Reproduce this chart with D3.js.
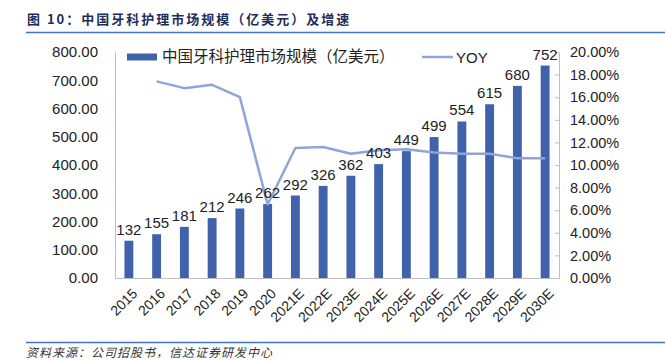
<!DOCTYPE html>
<html><head><meta charset="utf-8">
<script src="https://cdn.jsdelivr.net/npm/d3@7"></script>
<style>
body{margin:0;background:#fff;}
svg{display:block;}
text{font-family:"Liberation Sans",Arial,sans-serif;}
.cjk{font-family:"Noto Sans CJK SC",sans-serif;}
</style></head>
<body>
<svg id="c" width="665" height="361"></svg>
<script>
const categories = ["2015","2016","2017","2018","2019","2020","2021E","2022E","2023E","2024E","2025E","2026E","2027E","2028E","2029E","2030E"];
const marketSize = [132,155,181,212,246,262,292,326,362,403,449,499,554,615,680,752];
const yoy = [null,17.4,16.8,17.1,16.0,6.5,11.5,11.6,11.0,11.3,11.4,11.1,11.0,11.0,10.6,10.6];
const leftTicks = [0,100,200,300,400,500,600,700,800];
const rightTicks = [0,2,4,6,8,10,12,14,16,18,20];
const titleText = "图 10：中国牙科护理市场规模（亿美元）及增速";
const sourceText = "资料来源：公司招股书，信达证券研发中心";
const seriesNames = ["中国牙科护理市场规模（亿美元）","YOY"];

const svg = d3.select("#c");
const L = 115, R = 559, T = 52, B = 278;
const barColor = "#3f62ab", lineColor = "#8fa4d8", axisColor = "#bfbfbf";

// title
svg.append("text").attr("class","cjk").attr("x",27).attr("y",24)
  .attr("font-size",13).attr("font-weight","bold").attr("letter-spacing",2).attr("fill","#1f2d5a")
  .text(titleText);
svg.append("line").attr("x1",26).attr("x2",665).attr("y1",32.5).attr("y2",32.5)
  .attr("stroke","#4472c4").attr("stroke-width",1.5);

const x = d3.scaleBand().domain(categories).range([L,R]).paddingInner(0.68).paddingOuter(0.34);
const y = d3.scaleLinear().domain([0,800]).range([B,T]);
const y2 = d3.scaleLinear().domain([0,20]).range([B,T]);

// left axis
const gl = svg.append("g").attr("transform",`translate(${L},0)`)
  .call(d3.axisLeft(y).tickValues(leftTicks).tickSize(0).tickPadding(17).tickFormat(d3.format(".2f")));
gl.select(".domain").attr("stroke",axisColor);
gl.selectAll("text").attr("font-size",15).attr("fill","#222");

// right axis
const gr = svg.append("g").attr("transform",`translate(${R},0)`)
  .call(d3.axisRight(y2).tickValues(rightTicks).tickSizeInner(-4).tickSizeOuter(0).tickPadding(11).tickFormat(d=>d.toFixed(2)+"%"));
gr.select(".domain").attr("stroke",axisColor);
gr.selectAll("line").attr("stroke",axisColor);
gr.selectAll("text").attr("font-size",14.5).attr("fill","#222");

// bottom axis
const gb = svg.append("g").attr("transform",`translate(0,${B})`)
  .call(d3.axisBottom(x).tickSize(0).tickSizeOuter(0));
gb.select(".domain").attr("stroke",axisColor);
gb.selectAll("text").attr("font-size",14).attr("fill","#222")
  .attr("text-anchor","end").attr("dy","0.35em")
  .attr("transform","translate(6,13) rotate(-45)").attr("y",0).attr("x",0);

// bars
svg.append("g").selectAll("rect").data(marketSize).join("rect")
  .attr("x",(d,i)=>x(categories[i])).attr("width",x.bandwidth())
  .attr("y",d=>y(d)).attr("height",d=>y(0)-y(d)).attr("fill",barColor);

// line
const line = d3.line().defined(d=>d!=null)
  .x((d,i)=>x(categories[i])+x.bandwidth()/2).y(d=>y2(d));
svg.append("path").datum(yoy).attr("d",line).attr("fill","none")
  .attr("stroke",lineColor).attr("stroke-width",2.5).attr("stroke-linejoin","round");

// data labels
svg.append("g").selectAll("text").data(marketSize).join("text")
  .attr("x",(d,i)=>x(categories[i])+x.bandwidth()/2).attr("y",d=>y(d)-6)
  .attr("text-anchor","middle").attr("font-size",15).attr("fill","#222").text(d=>d);

// legend
svg.append("rect").attr("x",127).attr("y",53.5).attr("width",30).attr("height",7).attr("fill",barColor);
svg.append("text").attr("class","cjk").attr("x",162).attr("y",62).attr("font-size",15.5).attr("fill","#222").text(seriesNames[0]);
svg.append("line").attr("x1",422).attr("x2",453).attr("y1",57).attr("y2",57).attr("stroke",lineColor).attr("stroke-width",2.5);
svg.append("text").attr("x",456).attr("y",62.5).attr("font-size",15).attr("fill","#222").text(seriesNames[1]);

// source
svg.append("line").attr("x1",26).attr("x2",665).attr("y1",342.5).attr("y2",342.5)
  .attr("stroke","#4472c4").attr("stroke-width",1.5);
svg.append("text").attr("class","cjk").attr("x",26).attr("y",357).attr("font-size",12)
  .attr("font-style","italic").attr("letter-spacing",1).attr("fill","#333").text(sourceText);
</script>
</body></html>
